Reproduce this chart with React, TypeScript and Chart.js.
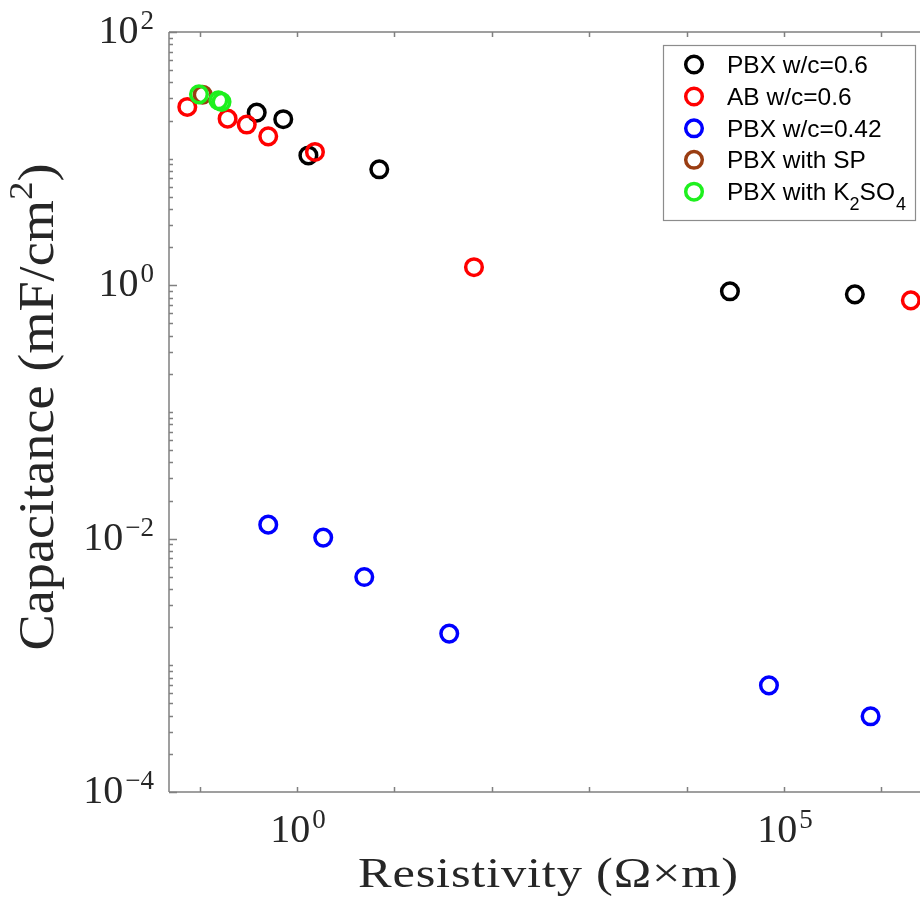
import React, { useEffect, useRef } from 'react';
import { Chart, registerables } from 'chart.js';

Chart.register(...registerables);

// ---------- data ----------
const seriesNames = ['PBX w/c=0.6', 'AB w/c=0.6', 'PBX w/c=0.42', 'PBX with SP', 'PBX with K2SO4'];
const seriesColors = ['#000000', '#ff0000', '#0000ff', '#9a3d12', '#1ef01e'];

const pbx06Resistivity = [0.386, 0.723, 1.31, 7.0, 27900, 535000];
const pbx06Capacitance = [23.1, 20.5, 10.6, 8.24, 0.897, 0.849];

const ab06Resistivity = [0.0748, 0.194, 0.305, 0.507, 1.53, 65.7, 2.01e6];
const ab06Capacitance = [25.6, 20.7, 18.6, 15.0, 11.3, 1.39, 0.761];

const pbx042Resistivity = [0.507, 1.86, 4.91, 36.6, 70200, 776000];
const pbx042Capacitance = [0.0129, 0.0102, 0.00498, 0.00178, 0.000695, 0.000396];

const spResistivity = [0.1076];
const spCapacitance = [32.0];

const k2so4Resistivity = [0.0986, 0.156, 0.168];
const k2so4Capacitance = [32.2, 28.9, 28.1];

const xTickExponents = [-1, 0, 1, 2, 3, 4, 5, 6];
const xLabelExponents = [0, 5];
const yLabelExponents = [-4, -2, 0, 2];

const X_MIN_EXP = -1.314;
const X_MAX_EXP = 6.5;
const Y_MIN = 1e-4;
const Y_MAX = 1e2;

const CANVAS_W = 1000;
const CANVAS_H = 910;

const SERIF = '"Liberation Serif", "Times New Roman", serif';
const SANS = '"Liberation Sans", Arial, sans-serif';
const TEXT_COLOR = '#262626';
const AXIS_COLOR = '#808080';

type Part = { text: string; size: number; dy: number };

function drawFitted(ctx: CanvasRenderingContext2D, parts: Part[], cx: number, baseline: number, target: number, maxScale: number) {
  const chars: { ch: string; size: number; dy: number; w: number }[] = [];
  for (const p of parts) {
    ctx.font = `${p.size}px ${SERIF}`;
    for (const ch of Array.from(p.text)) {
      chars.push({ ch, size: p.size, dy: p.dy, w: ctx.measureText(ch).width });
    }
  }
  const natural = chars.reduce((s, c) => s + c.w, 0);
  const s = Math.min(maxScale, target / natural);
  const spacing = chars.length > 1 ? Math.max(0, (target - natural * s) / (chars.length - 1)) : 0;
  let x = cx - target / 2;
  ctx.textAlign = 'left';
  ctx.textBaseline = 'alphabetic';
  for (const c of chars) {
    ctx.save();
    ctx.translate(x, baseline);
    ctx.scale(s, 1);
    ctx.font = `${c.size}px ${SERIF}`;
    ctx.fillText(c.ch, 0, c.dy);
    ctx.restore();
    x += c.w * s + spacing;
  }
}

function drawPower(ctx: CanvasRenderingContext2D, exp: number, x: number, baseline: number, align: 'right' | 'center') {
  const base = '10';
  const sup = exp < 0 ? '\u2212' + Math.abs(exp) : String(exp);
  ctx.font = `40px ${SERIF}`;
  const bw = ctx.measureText(base).width;
  ctx.font = `27px ${SERIF}`;
  const sw = ctx.measureText(sup).width;
  const gap = 2;
  const total = bw + gap + sw;
  const x0 = align === 'right' ? x - total : x - total / 2;
  ctx.textAlign = 'left';
  ctx.textBaseline = 'alphabetic';
  ctx.font = `40px ${SERIF}`;
  ctx.fillText(base, x0, baseline);
  ctx.font = `27px ${SERIF}`;
  ctx.fillText(sup, x0 + bw + gap, baseline - 14);
}

const matlabAxes = {
  id: 'matlabAxes',
  afterDraw(chart: any) {
    const ctx: CanvasRenderingContext2D = chart.ctx;
    const { left, right, top, bottom } = chart.chartArea;
    const xs = chart.scales.x;
    const ys = chart.scales.y;
    ctx.save();

    // axis box
    ctx.strokeStyle = AXIS_COLOR;
    ctx.lineWidth = 1.5;
    ctx.beginPath();
    ctx.moveTo(left, top); ctx.lineTo(right, top);
    ctx.moveTo(left, bottom); ctx.lineTo(right, bottom);
    ctx.moveTo(left, top); ctx.lineTo(left, bottom);
    ctx.moveTo(right, top); ctx.lineTo(right, bottom);
    ctx.stroke();

    // y ticks (log minor ticks)
    ctx.beginPath();
    for (let k = -4; k <= 2; k++) {
      for (let m = 1; m <= 9; m++) {
        const v = m * Math.pow(10, k);
        if (v > Y_MAX * 1.0001) continue;
        const py = Math.round(ys.getPixelForValue(v)) + 0.5;
        const len = m === 1 && yLabelExponents.includes(k) ? 8 : 4;
        ctx.moveTo(left, py); ctx.lineTo(left + len, py);
        ctx.moveTo(right, py); ctx.lineTo(right - len, py);
      }
    }
    // x ticks
    for (const e of xTickExponents) {
      const px = Math.round(xs.getPixelForValue(Math.pow(10, e))) + 0.5;
      ctx.moveTo(px, bottom); ctx.lineTo(px, bottom - 5);
      ctx.moveTo(px, top); ctx.lineTo(px, top + 5);
    }
    ctx.stroke();

    // tick labels
    ctx.fillStyle = TEXT_COLOR;
    for (const e of yLabelExponents) {
      const py = ys.getPixelForValue(Math.pow(10, e));
      drawPower(ctx, e, left - 15, py + 11, 'right');
    }
    for (const e of xLabelExponents) {
      const px = xs.getPixelForValue(Math.pow(10, e));
      drawPower(ctx, e, px + 1, bottom + 50, 'center');
    }

    // axis titles
    drawFitted(ctx, [{ text: 'Resistivity (\u03A9\u00D7m)', size: 42, dy: 0 }], 548, 887, 380, 1.2);
    ctx.save();
    ctx.translate(53, 407);
    ctx.rotate(-Math.PI / 2);
    drawFitted(ctx, [
      { text: 'Capacitance (mF/cm', size: 50, dy: 0 },
      { text: '2', size: 34, dy: -21 },
      { text: ')', size: 50, dy: 0 },
    ], 0, 0, 487, 1.15);
    ctx.restore();

    // legend
    const lx0 = 663, ly0 = 45, lx1 = 915, ly1 = 220;
    ctx.fillStyle = '#ffffff';
    ctx.fillRect(lx0, ly0, lx1 - lx0, ly1 - ly0);
    ctx.strokeStyle = '#8c8c8c';
    ctx.lineWidth = 1.2;
    ctx.strokeRect(lx0 + 0.5, ly0 + 0.5, lx1 - lx0, ly1 - ly0);
    const rowY = [64.5, 96.5, 128.3, 159.8, 191.7];
    for (let i = 0; i < seriesNames.length; i++) {
      const y = rowY[i];
      ctx.strokeStyle = seriesColors[i];
      ctx.lineWidth = 3.5;
      ctx.beginPath();
      ctx.arc(694, y, 8.3, 0, Math.PI * 2);
      ctx.stroke();
      ctx.fillStyle = '#000000';
      ctx.textAlign = 'left';
      ctx.textBaseline = 'alphabetic';
      const tx = 727, ty = y + 8.5;
      if (seriesNames[i] === 'PBX with K2SO4') {
        let x = tx;
        const seg = (t: string, size: number, dy: number) => {
          ctx.font = `${size}px ${SANS}`;
          ctx.fillText(t, x, ty + dy);
          x += ctx.measureText(t).width;
        };
        seg('PBX with K', 24.5, 0);
        seg('2', 18, 10);
        seg('SO', 24.5, 0);
        x += 1;
        seg('4', 18, 10);
      } else {
        ctx.font = `24.5px ${SANS}`;
        ctx.fillText(seriesNames[i], tx, ty);
      }
    }
    ctx.restore();
  },
};

function toPoints(xs: number[], ys: number[]) {
  return xs.map((x, i) => ({ x, y: ys[i] }));
}

export default function App() {
  const ref = useRef<HTMLCanvasElement>(null);
  useEffect(() => {
    if (!ref.current) return;
    const xsList = [pbx06Resistivity, ab06Resistivity, pbx042Resistivity, spResistivity, k2so4Resistivity];
    const ysList = [pbx06Capacitance, ab06Capacitance, pbx042Capacitance, spCapacitance, k2so4Capacitance];
    const datasets = seriesNames.map((name, i) => ({
      label: name,
      data: toPoints(xsList[i], ysList[i]),
      borderColor: seriesColors[i],
      backgroundColor: 'rgba(0,0,0,0)',
      pointStyle: 'circle' as const,
      pointRadius: 8.3,
      pointBorderWidth: 3.5,
      borderWidth: 3.5,
      showLine: false,
      order: 5 - i,
    }));
    const chart = new Chart(ref.current, {
      type: 'scatter',
      data: { datasets },
      options: {
        animation: false,
        responsive: false,
        devicePixelRatio: 1,
        events: [],
        layout: { padding: { left: 169, right: CANVAS_W - 930, top: 32, bottom: CANVAS_H - 792 } },
        scales: {
          x: { type: 'logarithmic', display: false, min: Math.pow(10, X_MIN_EXP), max: Math.pow(10, X_MAX_EXP) },
          y: { type: 'logarithmic', display: false, min: Y_MIN, max: Y_MAX },
        },
        plugins: { legend: { display: false }, tooltip: { enabled: false }, title: { display: false } },
      },
      plugins: [matlabAxes],
    });
    return () => chart.destroy();
  }, []);
  return (
    <div style={{ position: 'fixed', left: 0, top: 0, width: 920, height: 910, overflow: 'hidden', background: '#ffffff' }}>
      <canvas ref={ref} width={CANVAS_W} height={CANVAS_H} style={{ display: 'block', width: CANVAS_W, height: CANVAS_H }} />
    </div>
  );
}
